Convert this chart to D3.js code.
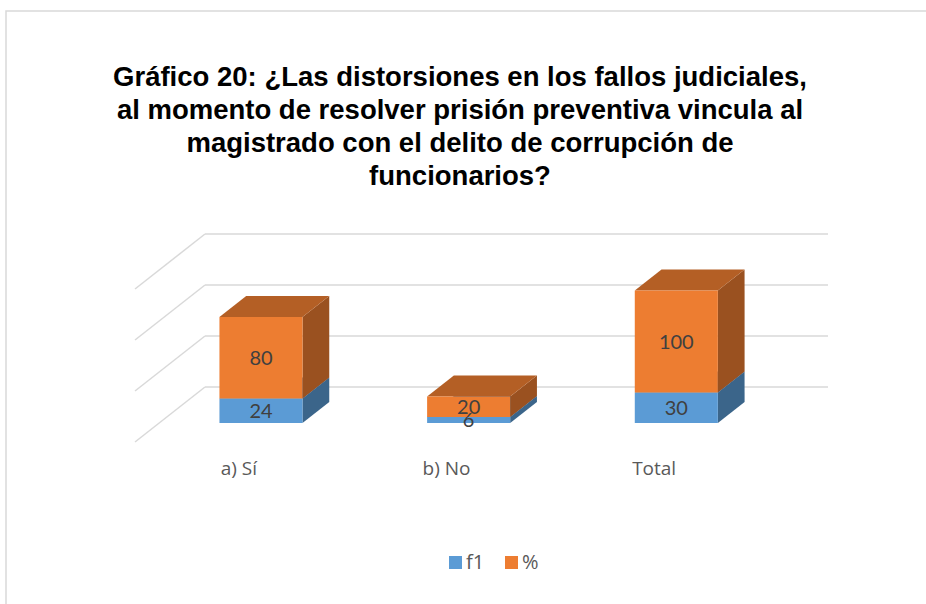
<!DOCTYPE html>
<html>
<head>
<meta charset="utf-8">
<script src="https://cdn.jsdelivr.net/npm/d3@7"></script>
<style>
  body { margin: 0; background: #fff; }
  svg { display: block; }
  .title { font-family: 'Liberation Sans', Arial, Helvetica, sans-serif; font-weight: bold; }
</style>
</head>
<body>
<div id="chart"></div>
<script>
const categories = ['a) Sí', 'b) No', 'Total'];
const seriesNames = ['f1', '%'];
const f1Values = [24, 6, 30];
const pctValues = [80, 20, 100];
const gridValues = [0, 50, 100, 150];
const titleLines = [
	'Gráfico 20: ¿Las distorsiones en los fallos judiciales,',
	'al momento de resolver prisión preventiva vincula al',
	'magistrado con el delito de corrupción de',
	'funcionarios?'
];

const WIDTH = 926;
const HEIGHT = 604;
const COLORS = ['#5B9BD5', '#ED7D31'];

// floor front-left corner and depth direction of the 3d box
const FLOOR = { LEFT: 133, RIGHT: 756, Y: 442 };
const DEPTH = { DX: 70, DY: -55 };
const BAR_Z0 = 0.345;
const BAR_Z1 = 0.727;

const svg = d3.select('#chart')
	.append('svg')
		.attr('width', WIDTH)
		.attr('height', HEIGHT);

// chart area border (runs off to the right and bottom)
svg.append('rect')
	.attr('x', 6)
	.attr('y', 11)
	.attr('width', WIDTH + 10)
	.attr('height', HEIGHT + 10)
	.attr('fill', 'none')
	.attr('stroke', '#D9D9D9')
	.attr('stroke-width', 1.5);

svg.append('g')
	.selectAll('text')
	.data(titleLines)
	.enter().append('text')
		.attr('class', 'title')
		.attr('x', 460)
		.attr('y', (d, i) => 86 + i * 33)
		.attr('text-anchor', 'middle')
		.attr('font-size', 27.5)
		.attr('fill', '#000')
		.text(d => d);

const x = d3.scaleBand()
	.domain(categories)
	.range([FLOOR.LEFT, FLOOR.RIGHT])
	.paddingInner(0.6)
	.paddingOuter(0.3);

const h = d3.scaleLinear()
	.domain([0, 150])
	.range([0, 153]);

// project (x on floor front, depth z 0..1, value v) to screen
const px = (xv, z) => xv + z * DEPTH.DX;
const py = (z, v) => FLOOR.Y + z * DEPTH.DY - h(v);

// gridlines: side wall diagonals and back wall lines
const grid = svg.append('g')
	.attr('stroke', '#D9D9D9')
	.attr('stroke-width', 1.5)
	.attr('fill', 'none');

grid.selectAll('.side')
	.data(gridValues)
	.enter().append('line')
		.attr('x1', px(FLOOR.LEFT + 2, 0))
		.attr('y1', d => py(0, d))
		.attr('x2', px(FLOOR.LEFT + 2, 1))
		.attr('y2', d => py(1, d));

grid.selectAll('.back')
	.data(gridValues)
	.enter().append('line')
		.attr('x1', px(FLOOR.LEFT + 2, 1))
		.attr('y1', d => py(1, d))
		.attr('x2', px(FLOOR.RIGHT + 2, 1))
		.attr('y2', d => py(1, d));

const stackData = categories.map((c, i) => ({ cat: c, f1: f1Values[i], '%': pctValues[i] }));
const stacked = d3.stack().keys(seriesNames)(stackData);

const segments = [];
stacked.forEach((layer, si) => {
	layer.forEach((d, ci) => {
		segments.push({ series: si, cat: categories[ci], v0: d[0], v1: d[1], value: d[1] - d[0] });
	});
});

const shade = (c, k) => {
	const col = d3.rgb(c);
	return d3.rgb(col.r * k, col.g * k, col.b * k).formatHex();
};

const poly = pts => pts.map(p => p.join(',')).join(' ');

const bars = svg.append('g');

categories.forEach(cat => {
	const xl = x(cat);
	const xr = x(cat) + x.bandwidth();
	segments.filter(s => s.cat === cat).forEach(s => {
		const col = COLORS[s.series];
		const g = bars.append('g');
		// side face
		g.append('polygon')
			.attr('points', poly([
				[px(xr, BAR_Z0), py(BAR_Z0, s.v0)],
				[px(xr, BAR_Z1), py(BAR_Z1, s.v0)],
				[px(xr, BAR_Z1), py(BAR_Z1, s.v1)],
				[px(xr, BAR_Z0), py(BAR_Z0, s.v1)]
			]))
			.attr('fill', shade(col, 0.65));
		// top face
		g.append('polygon')
			.attr('points', poly([
				[px(xl, BAR_Z0), py(BAR_Z0, s.v1)],
				[px(xr, BAR_Z0), py(BAR_Z0, s.v1)],
				[px(xr, BAR_Z1), py(BAR_Z1, s.v1)],
				[px(xl, BAR_Z1), py(BAR_Z1, s.v1)]
			]))
			.attr('fill', shade(col, 0.76));
		// front face
		g.append('polygon')
			.attr('points', poly([
				[px(xl, BAR_Z0), py(BAR_Z0, s.v0)],
				[px(xr, BAR_Z0), py(BAR_Z0, s.v0)],
				[px(xr, BAR_Z0), py(BAR_Z0, s.v1)],
				[px(xl, BAR_Z0), py(BAR_Z0, s.v1)]
			]))
			.attr('fill', col);
	});
});

// data labels
svg.append('g')
	.selectAll('text')
	.data(segments)
	.enter().append('text')
		.attr('x', d => px(x(d.cat) + x.bandwidth() / 2, BAR_Z0))
		.attr('y', d => py(BAR_Z0, (d.v0 + d.v1) / 2))
		.attr('dy', '0.36em')
		.attr('text-anchor', 'middle')
		.attr('font-family', 'Lato, sans-serif')
		.attr('font-size', 20)
		.attr('fill', '#404040')
		.text(d => d.value);

// category labels
svg.append('g')
	.selectAll('text')
	.data(categories)
	.enter().append('text')
		.attr('x', d => x(d) + x.bandwidth() / 2 + 2)
		.attr('y', 475)
		.attr('text-anchor', 'middle')
		.attr('font-family', 'Open Sans, sans-serif')
		.attr('font-size', 19)
		.attr('fill', '#595959')
		.text(d => d);

// legend
const legend = svg.append('g');
const legendX = [449, 505];
seriesNames.forEach((name, i) => {
	legend.append('rect')
		.attr('x', legendX[i])
		.attr('y', 556)
		.attr('width', 13)
		.attr('height', 13)
		.attr('fill', COLORS[i]);
	legend.append('text')
		.attr('x', legendX[i] + 17)
		.attr('y', 569)
		.attr('font-family', 'Open Sans, sans-serif')
		.attr('font-size', 20)
		.attr('fill', '#595959')
		.text(name);
});
</script>
</body>
</html>
